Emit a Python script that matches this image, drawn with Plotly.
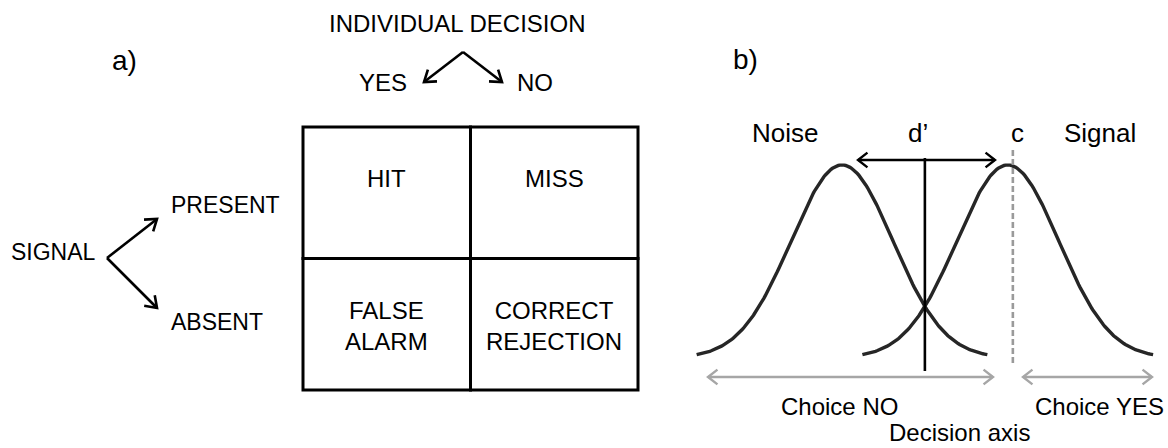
import math
import numpy as np
import plotly.graph_objects as go

# --- data ---
panel_labels = ["a)", "b)"]
decision_title = "INDIVIDUAL DECISION"
decision_labels = ["YES", "NO"]
signal_title = "SIGNAL"
signal_labels = ["PRESENT", "ABSENT"]
outcomes = [["HIT", "MISS"],
            ["FALSE<br>ALARM", "CORRECT<br>REJECTION"]]

dist_labels = ["Noise", "Signal"]
noise_mean = 0.0
d_prime = 3.25        # separation of the two distributions (sd units)
criterion = 3.35      # position of c on the decision axis
tail = 2.85           # how far each curve is drawn either side of its mean
choice_labels = ["Choice NO", "Choice YES"]
axis_label = "Decision axis"

# --- geometry (pixels) ---
W, H = 1168, 448
FONT = "Arial, Liberation Sans, sans-serif"
BLACK = "#000000"
GREY = "#a6a6a6"
# decision axis calibration: noise mean at px 842, 51 px per sd,
# baseline at px 358, 483.8 px per density unit
X0, SX = 842, 51.0
Y0, SY = 358, 483.8


def arrow_path(x0, y0, x1, y1, head=13, ang=35, both=False):
    xs, ys = [x0, x1, None], [y0, y1, None]
    ends = [(x0, y0, x1, y1)]
    if both:
        ends.append((x1, y1, x0, y0))
    for ax, ay, bx, by in ends:
        th = math.atan2(by - ay, bx - ax)
        a1 = th + math.pi - math.radians(ang)
        a2 = th + math.pi + math.radians(ang)
        xs += [bx + head * math.cos(a1), bx, bx + head * math.cos(a2), None]
        ys += [by + head * math.sin(a1), by, by + head * math.sin(a2), None]
    return xs, ys


def pdf(z):
    return np.exp(-z ** 2 / 2) / math.sqrt(2 * math.pi)


fig = go.Figure()

# --- a) decision tree arrows ---
ax_, ay_ = [], []
for tip in [(424, 82), (502, 82)]:
    xs, ys = arrow_path(463, 52, *tip)
    ax_ += xs
    ay_ += ys
for tip in [(157, 219), (157, 308)]:
    xs, ys = arrow_path(107, 258, *tip)
    ax_ += xs
    ay_ += ys
fig.add_trace(go.Scatter(x=ax_, y=ay_, mode="lines",
                         line=dict(color=BLACK, width=2.6),
                         xaxis="x", yaxis="y", hoverinfo="skip"))

# --- a) outcome table ---
left, top = 303, 127
cw, ch = 167.5, 131.5
for r, row in enumerate(outcomes):
    for c, txt in enumerate(row):
        fig.add_shape(type="rect", xref="x", yref="y",
                      x0=left + c * cw, x1=left + (c + 1) * cw,
                      y0=top + r * ch, y1=top + (r + 1) * ch,
                      line=dict(color=BLACK, width=3))
        fig.add_annotation(x=left + (c + 0.5) * cw,
                           y=top + 51 + r * ch + (16 if "<br>" in txt else 0),
                           text=txt, showarrow=False, xref="x", yref="y",
                           font=dict(size=24, color=BLACK, family=FONT))

# --- b) distributions ---
for mean in [noise_mean, noise_mean + d_prime]:
    z = np.linspace(mean - tail, mean + tail, 200)
    fig.add_trace(go.Scatter(x=z, y=pdf(z - mean), mode="lines",
                             line=dict(color="#262626", width=3.4),
                             xaxis="x2", yaxis="y2", hoverinfo="skip"))

mid = noise_mean + d_prime / 2
fig.add_trace(go.Scatter(x=[mid, mid], y=[(Y0 - 158) / SY, (Y0 - 371) / SY],
                         mode="lines", line=dict(color=BLACK, width=2.6),
                         xaxis="x2", yaxis="y2", hoverinfo="skip"))
fig.add_trace(go.Scatter(x=[criterion, criterion],
                         y=[(Y0 - 150) / SY, (Y0 - 363) / SY],
                         mode="lines",
                         line=dict(color="#9a9a9a", width=2.6, dash="6px,3px"),
                         xaxis="x2", yaxis="y2", hoverinfo="skip"))

# d' arrow
xs, ys = arrow_path(858, 160, 995, 160, head=12, ang=38, both=True)
fig.add_trace(go.Scatter(x=xs, y=ys, mode="lines",
                         line=dict(color=BLACK, width=2.4),
                         xaxis="x", yaxis="y", hoverinfo="skip"))
# choice arrows
gx, gy = [], []
for a, b in [(708, 993), (1023, 1152)]:
    xs, ys = arrow_path(a, 377, b, 377, head=12, ang=38, both=True)
    gx += xs
    gy += ys
fig.add_trace(go.Scatter(x=gx, y=gy, mode="lines",
                         line=dict(color=GREY, width=2.4),
                         xaxis="x", yaxis="y", hoverinfo="skip"))

# --- texts ---
texts = [
    (panel_labels[0], 124, 60, 28, "center"),
    (panel_labels[1], 745, 59, 28, "center"),
    (decision_title, 457, 23, 24, "center"),
    (decision_labels[0], 383, 82, 24, "center"),
    (decision_labels[1], 535, 82, 24, "center"),
    (signal_title, 98, 252, 23, "right"),
    (signal_labels[0], 169, 205, 23, "left"),
    (signal_labels[1], 169, 322, 23, "left"),
    (dist_labels[0], 785, 133, 26, "center"),
    ("d\u2019", 918, 133, 26, "center"),
    ("c", 1017, 133, 26, "center"),
    (dist_labels[1], 1100, 133, 26, "center"),
    (choice_labels[0], 839, 406, 24, "center"),
    (choice_labels[1], 1099, 406, 24, "center"),
    (axis_label, 959, 432, 24, "center"),
]
for txt, x, y, size, anchor in texts:
    fig.add_annotation(x=x, y=y, text=txt, showarrow=False, xref="x", yref="y",
                       xanchor=anchor, yanchor="middle",
                       font=dict(size=size, color=BLACK, family=FONT))

hidden = dict(visible=False, showgrid=False, zeroline=False, fixedrange=True)
fig.update_layout(
    width=W, height=H,
    margin=dict(l=0, r=0, t=0, b=0),
    paper_bgcolor="white", plot_bgcolor="rgba(0,0,0,0)",
    showlegend=False,
    xaxis=dict(range=[0, W], domain=[0, 1], **hidden),
    yaxis=dict(range=[H, 0], domain=[0, 1], **hidden),
    xaxis2=dict(range=[(0 - X0) / SX, (W - X0) / SX], domain=[0, 1],
                anchor="y2", **hidden),
    yaxis2=dict(range=[(Y0 - H) / SY, Y0 / SY], domain=[0, 1],
                anchor="x2", **hidden),
)

# drop the default 8px page margin so the figure fills the window
fig.write_html("out.html", config={"displayModeBar": False},
               post_script="document.body.style.margin='0';"
                           "document.body.style.overflow='hidden';")
